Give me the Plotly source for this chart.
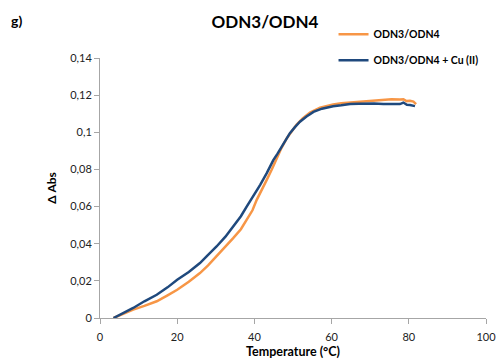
import plotly.graph_objects as go

temp_odn = [3.5, 6.0, 8.6, 11.5, 14.7, 17.5, 20.0, 23.0, 25.9, 28.0, 30.2, 32.5, 34.5, 36.5, 38.0, 39.5, 40.6, 42.0, 43.2, 44.5, 45.8, 47.0, 48.4, 49.7, 50.9, 52.5, 54.4, 57.0, 60.4, 62.5, 64.8, 67.0, 69.0, 71.0, 73.4, 75.5, 77.7, 78.6, 79.4, 80.3, 81.2, 81.9]
abs_odn = [0.0, 0.0022, 0.0045, 0.0065, 0.009, 0.0122, 0.0152, 0.0195, 0.0242, 0.0283, 0.0332, 0.0382, 0.043, 0.0478, 0.0529, 0.058, 0.0636, 0.069, 0.0744, 0.080, 0.086, 0.0915, 0.0968, 0.1005, 0.104, 0.1075, 0.1106, 0.1132, 0.115, 0.1156, 0.116, 0.1163, 0.1168, 0.117, 0.1174, 0.1178, 0.1177, 0.1178, 0.1168, 0.1170, 0.1165, 0.1152]

temp_cu = [3.5, 6.0, 8.6, 11.5, 14.7, 17.5, 20.0, 23.0, 25.9, 28.0, 30.2, 32.5, 34.5, 36.5, 38.0, 39.8, 41.5, 43.2, 44.9, 46.0, 47.1, 48.2, 49.2, 50.5, 51.8, 53.5, 55.3, 57.5, 60.4, 62.5, 64.8, 67.0, 69.0, 71.0, 73.4, 75.5, 77.7, 78.6, 79.5, 80.3, 81.0, 81.6]
abs_cu = [0.0, 0.0027, 0.0054, 0.009, 0.0125, 0.0165, 0.0206, 0.0248, 0.0296, 0.034, 0.0385, 0.0438, 0.0493, 0.0548, 0.060, 0.0657, 0.0717, 0.078, 0.085, 0.0885, 0.0923, 0.096, 0.0995, 0.1028, 0.1057, 0.1085, 0.111, 0.1127, 0.114, 0.1145, 0.1152, 0.1154, 0.1156, 0.1155, 0.1152, 0.1153, 0.1152, 0.116, 0.1148, 0.1147, 0.1144, 0.1141]

y_ticks = [0, 0.02, 0.04, 0.06, 0.08, 0.1, 0.12, 0.14]
x_ticks = [0, 20, 40, 60, 80, 100]

FONT = "Lato, 'Open Sans', sans-serif"

fig = go.Figure()
fig.add_trace(go.Scatter(x=temp_odn, y=abs_odn, mode="lines", name="<b>ODN3/ODN4</b>",
                         line=dict(color="#F79646", width=2.5), legendgroup="a"))
fig.add_trace(go.Scatter(x=temp_cu, y=abs_cu, mode="lines", name="<b>ODN3/ODN4 + Cu (II)</b>",
                         line=dict(color="#1F497D", width=2.5), legendgroup="b"))

fig.update_layout(
    width=496, height=362,
    margin=dict(l=100, r=10, t=58, b=44),
    paper_bgcolor="white", plot_bgcolor="white",
    separators=",.",
    font=dict(family=FONT, size=11, color="#222"),
    title=dict(text="<b>ODN3/ODN4</b>", x=265/496, xanchor="center", y=1 - 22/362, yanchor="middle",
               font=dict(size=17, color="#000")),
    legend=dict(x=0.605, y=1.147, xanchor="left", yanchor="top", font=dict(size=10.5, color="#000"),
                itemwidth=30, tracegroupgap=7, bgcolor="rgba(0,0,0,0)"),
    xaxis=dict(range=[0, 100], tickvals=x_ticks, showgrid=False, zeroline=False,
               showline=True, linecolor="#A6A6A6", linewidth=1, automargin=False,
               ticklabeloverflow="allow",
               ticks="outside", ticklen=5, tickcolor="#A6A6A6", ticklabelstandoff=4,
               title=dict(text="<b>Temperature (°C)</b>", font=dict(size=12.5, color="#000"), standoff=5)),
    yaxis=dict(range=[0, 0.14], tickvals=y_ticks, showgrid=False, zeroline=False,
               showline=True, linecolor="#A6A6A6", linewidth=1, automargin=False,
               ticks="outside", ticklen=5, tickcolor="#A6A6A6",
               title=dict(text="<b>Δ Abs</b>", font=dict(size=12, color="#000"), standoff=10)),
)
fig.add_annotation(text="<b>g)</b>", xref="paper", yref="paper", x=-0.235, y=1 + 38/260,
                   xanchor="left", yanchor="middle", showarrow=False,
                   font=dict(size=14, color="#000"))

fig.write_html("out.html")
